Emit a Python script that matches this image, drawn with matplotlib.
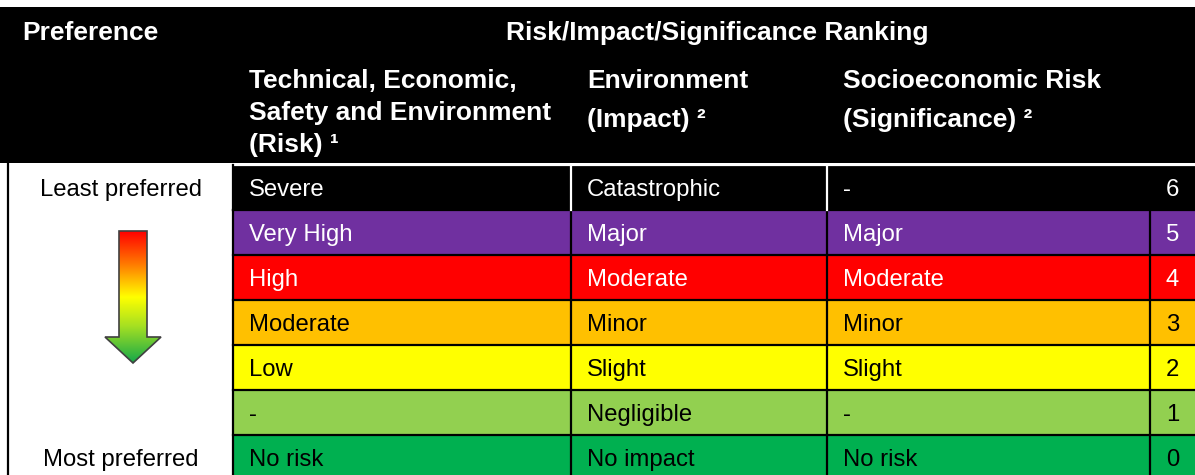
import numpy as np
import matplotlib.pyplot as plt
from matplotlib.patches import Rectangle, Polygon
from matplotlib.colors import LinearSegmentedColormap

plt.rcParams['font.family'] = ['Liberation Sans', 'DejaVu Sans']

# table data
levels = [6, 5, 4, 3, 2, 1, 0]
technical = ['Severe', 'Very High', 'High', 'Moderate', 'Low', '-', 'No risk']
environment = ['Catastrophic', 'Major', 'Moderate', 'Minor', 'Slight', 'Negligible', 'No impact']
socioeconomic = ['-', 'Major', 'Moderate', 'Minor', 'Slight', '-', 'No risk']
row_colors = ['#000000', '#7030A0', '#FF0000', '#FFC000', '#FFFF00', '#92D050', '#00B050']
text_colors = ['white', 'white', 'white', 'black', 'black', 'black', 'black']

title = 'Risk/Impact/Significance Ranking'
pref_label = 'Preference'
col_headers = [['Technical, Economic,', 'Safety and Environment', '(Risk) \u00b9'],
               ['Environment', '(Impact) \u00b2'],
               ['Socioeconomic Risk', '(Significance) \u00b2']]
least_label = 'Least preferred'
most_label = 'Most preferred'

# layout (pixel units)
W, H = 1195, 475
col_edges = [233, 571, 827, 1150, 1195]
row_top = 165
row_h = 45
left_x = 7
hdr_fs = 19
body_fs = 17.2

fig = plt.figure(figsize=(W / 100, H / 100), dpi=100)
ax = fig.add_axes([0, 0, 1, 1])
ax.set_xlim(0, W)
ax.set_ylim(H, 0)
ax.axis('off')

# header
ax.add_patch(Rectangle((0, 7), W, 156, color='black', lw=0))
ax.text(22, 40, pref_label, color='white', fontsize=hdr_fs, fontweight='bold', va='baseline', ha='left')
ax.text((col_edges[0] + W) / 2 + 3, 40, title, color='white', fontsize=hdr_fs,
        fontweight='bold', va='baseline', ha='center')
hdr_spacing = [32, 39, 39]
for j, lines in enumerate(col_headers):
    for k, line in enumerate(lines):
        ax.text(col_edges[j] + 16, 88 + k * hdr_spacing[j], line, color='white', fontsize=hdr_fs,
                fontweight='bold', va='baseline', ha='left')

# body rows
for i, lvl in enumerate(levels):
    y0 = row_top + i * row_h
    ax.add_patch(Rectangle((col_edges[0], y0), W - col_edges[0], row_h, color=row_colors[i], lw=0))
    yb = y0 + 31
    for j, vals in enumerate([technical, environment, socioeconomic]):
        ax.text(col_edges[j] + 16, yb, vals[i], color=text_colors[i], fontsize=body_fs,
                va='baseline', ha='left')
    ax.text((col_edges[3] + W) / 2, yb, str(lvl), color=text_colors[i], fontsize=body_fs,
            va='baseline', ha='center')

# grid lines
n = len(levels)
for i in range(1, n):
    y = row_top + i * row_h
    ax.plot([col_edges[0], W], [y, y], color='black', lw=1.6)
for x in col_edges[:4]:
    ax.plot([x, x], [row_top + row_h, H], color='black', lw=1.6)
# white separators in the black row
ax.plot([col_edges[0], W], [row_top, row_top], color='white', lw=1.6)
for x in col_edges[1:3]:
    ax.plot([x, x], [row_top, row_top + row_h], color='white', lw=1.6)
ax.plot([col_edges[0], col_edges[0]], [row_top, row_top + row_h], color='black', lw=1.6)
ax.plot([left_x + 1, left_x + 1], [163, H], color='black', lw=1.6)

# left column labels
ax.text(121, 196, least_label, fontsize=body_fs, va='baseline', ha='center', color='black')
ax.text(121, 466, most_label, fontsize=body_fs, va='baseline', ha='center', color='black')

# gradient arrow
arrow_pts = [(119, 231), (147, 231), (147, 337), (161, 337), (133, 363), (105, 337), (119, 337)]
cmap = LinearSegmentedColormap.from_list('pref', [(0, '#FF0000'), (0.25, '#FF7A00'), (0.5, '#FFFF00'),
                                                 (0.72, '#A6E022'), (1, '#14A84A')])
grad = np.linspace(0, 1, 256).reshape(-1, 1)
img = ax.imshow(grad, cmap=cmap, extent=(105, 161, 363, 231), aspect='auto', zorder=2)
arrow = Polygon(arrow_pts, closed=True, fill=False, edgecolor='#404040', lw=1.2, zorder=3)
ax.add_patch(arrow)
img.set_clip_path(arrow)
ax.set_xlim(0, W)
ax.set_ylim(H, 0)

fig.savefig('out.png', dpi=100)
